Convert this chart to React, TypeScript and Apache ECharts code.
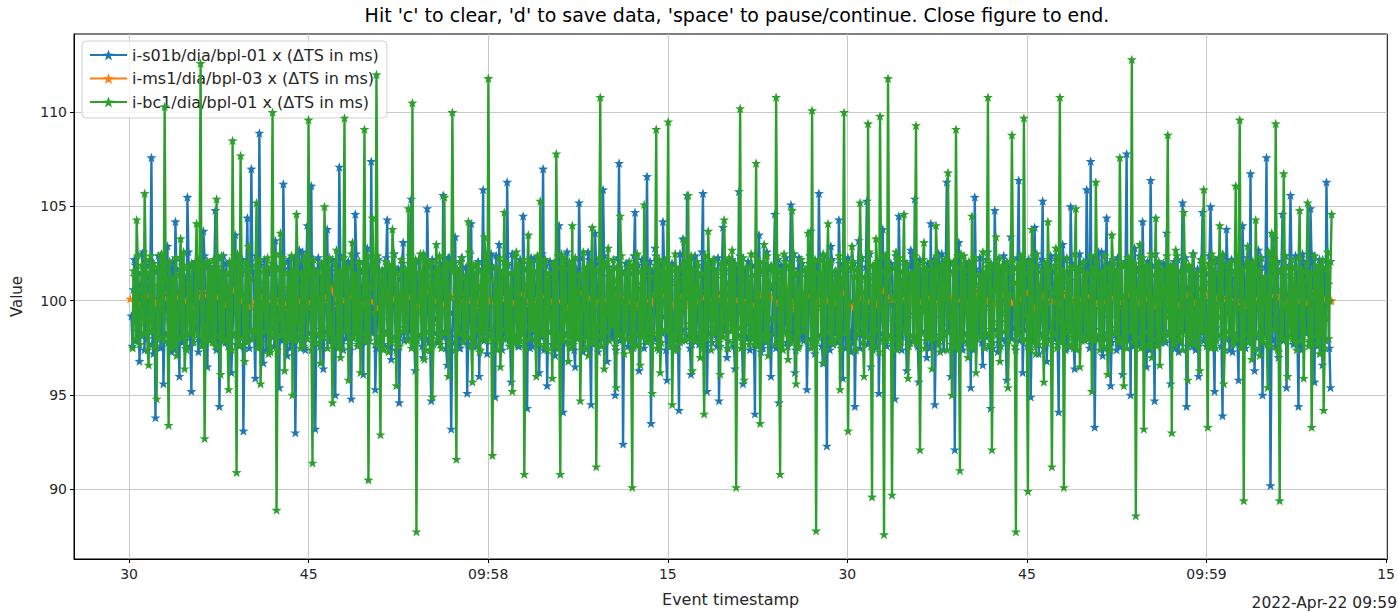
import React, { useEffect, useRef } from "react";
import * as echarts from "echarts";

const TITLE = "Hit 'c' to clear, 'd' to save data, 'space' to pause/continue. Close figure to end.";
const SERIES_NAMES = [
  "i-s01b/dia/bpl-01 x (ΔTS in ms)",
  "i-ms1/dia/bpl-03 x (ΔTS in ms)",
  "i-bc1/dia/bpl-01 x (ΔTS in ms)",
];
const COLORS = ["#1f77b4", "#ff7f0e", "#2ca02c"];
const X_NAME = "Event timestamp";
const Y_NAME = "Value";
const OFFSET_TEXT = "2022-Apr-22 09:59";

// x in seconds after 09:57:00
const X_MIN = 25.4;
const X_MAX = 135.1;
const X_TICKS = [30, 45, 60, 75, 90, 105, 120, 135];
const Y_MIN = 86.3;
const Y_MAX = 114.15;
const Y_TICKS = [90, 95, 100, 105, 110];

// sample timing of each stream (seconds after 09:57:00)
const S01B_START = 30.2;
const S01B_STEP = 0.08346;
const MS1_START = 30.1;
const MS1_STEP = 0.669;
const BC1_START = 30.3;
const BC1_STEP = 0.08346;

const S01B = [
  99.2, 97.6, 100.6, 102.2, 101.9, 97.9, 98.4, 101.5, 96.8, 98.2, 100.9, 102.5, 102.6, 97.4, 99.5, 101.9, 98.0, 98.4, 101.3, 102.1, 107.6, 97.7, 97.2, 101.6, 93.8, 98.0, 100.1, 102.4, 101.4, 97.5, 98.9, 101.7, 95.6, 98.3, 101.7, 102.0, 102.9, 97.8, 99.0, 101.8,
  97.3, 102.1, 100.8, 97.4, 104.2, 101.7, 98.1, 98.3, 96.0, 102.3, 101.4, 97.8, 100.5, 101.3, 97.9, 98.1, 105.5, 102.6, 99.6, 97.6, 95.2, 101.9, 101.9, 98.5, 102.1, 102.0, 98.7, 97.3, 97.9, 101.6, 100.4, 98.0, 103.7, 102.4, 99.2, 97.9, 96.5, 101.8, 102.0, 98.2,
  101.0, 98.0, 98.6, 101.8, 104.8, 97.4, 100.3, 102.3, 94.4, 97.9, 101.1, 101.6, 102.4, 98.5, 97.8, 102.0, 98.3, 97.6, 100.7, 101.5, 96.2, 98.2, 99.4, 102.4, 103.5, 97.7, 98.2, 101.9, 97.6, 98.3, 101.5, 102.2, 93.1, 97.5, 99.8, 101.7, 104.4, 98.0, 97.5, 102.1,
  107.0, 101.6, 101.2, 98.0, 95.9, 102.4, 99.1, 97.7, 108.9, 101.9, 98.4, 98.3, 96.7, 102.2, 100.9, 97.4, 101.7, 101.5, 97.6, 98.4, 98.6, 102.0, 101.8, 97.6, 103.2, 101.8, 99.3, 98.1, 95.4, 102.5, 100.5, 97.9, 106.2, 101.7, 98.0, 98.2, 97.1, 102.1, 102.2, 97.5,
  100.8, 97.7, 99.7, 102.3, 93.0, 98.0, 98.8, 101.4, 102.7, 98.1, 101.0, 102.6, 97.8, 97.5, 97.4, 101.8, 104.0, 98.3, 100.2, 102.0, 106.1, 97.8, 99.0, 101.7, 93.2, 98.2, 101.6, 102.3, 101.3, 97.6, 98.5, 101.9, 96.4, 98.4, 100.8, 102.1, 103.8, 97.9, 99.9, 101.6,
  98.1, 102.2, 97.7, 97.6, 95.0, 101.8, 101.3, 98.2, 107.1, 102.4, 98.9, 97.9, 97.4, 101.5, 100.6, 98.0, 102.0, 102.1, 99.2, 97.4, 94.8, 101.9, 102.1, 98.3, 104.6, 102.5, 98.3, 97.7, 99.0, 101.6, 100.0, 98.1, 96.1, 102.0, 101.4, 97.8, 102.8, 101.7, 97.9, 98.4,
  107.4, 98.3, 100.4, 101.9, 95.3, 97.5, 99.6, 102.2, 101.6, 97.8, 98.1, 101.6, 97.7, 98.4, 101.7, 102.3, 104.3, 97.6, 99.0, 101.8, 96.9, 98.1, 100.9, 102.5, 100.3, 97.4, 97.3, 101.7, 94.6, 98.2, 101.2, 102.0, 103.1, 97.9, 99.5, 101.5, 98.5, 98.0, 98.6, 102.4,
  105.4, 101.7, 101.0, 97.9, 96.3, 102.1, 98.2, 98.2, 102.2, 101.5, 100.7, 97.6, 97.0, 102.4, 99.8, 98.0, 104.9, 101.8, 97.8, 97.4, 94.7, 102.2, 101.5, 98.3, 101.8, 101.6, 99.1, 97.8, 98.2, 102.0, 100.3, 98.1, 105.6, 101.9, 98.4, 97.5, 96.6, 102.3, 102.3, 98.4,
  93.2, 97.8, 99.4, 102.0, 103.4, 98.1, 100.6, 101.6, 97.5, 97.5, 98.0, 102.3, 101.1, 98.4, 101.1, 101.8, 95.1, 97.7, 99.7, 102.5, 104.1, 98.0, 97.6, 101.4, 98.8, 97.6, 100.8, 102.1, 96.0, 98.3, 99.2, 101.7, 105.9, 97.9, 101.9, 102.4, 97.2, 98.2, 98.5, 101.9,
  102.5, 101.8, 100.1, 97.7, 94.9, 102.4, 98.7, 98.0, 103.0, 101.6, 101.3, 97.4, 98.0, 102.1, 99.6, 98.3, 106.3, 101.9, 97.9, 97.8, 95.7, 102.5, 100.5, 98.1, 101.5, 101.5, 99.0, 97.6, 97.6, 102.2, 102.0, 98.4, 104.5, 101.7, 98.3, 97.9, 94.3, 102.0, 100.9, 97.5,
  102.3, 97.6, 99.5, 102.2, 98.4, 97.9, 101.6, 101.5, 96.2, 98.2, 98.1, 102.5, 107.0, 97.4, 100.2, 101.9, 95.5, 98.4, 99.8, 102.1, 101.9, 97.7, 97.4, 101.6, 97.1, 98.0, 101.0, 102.4, 104.0, 97.5, 98.9, 101.7, 94.1, 98.3, 100.6, 102.0, 102.6, 97.8, 99.3, 101.8,
  98.9, 102.1, 101.8, 97.4, 96.5, 101.7, 98.6, 98.3, 105.2, 102.3, 100.0, 97.8, 97.3, 101.3, 99.1, 98.1, 100.7, 102.6, 102.2, 97.6, 94.5, 101.9, 97.7, 98.5, 103.6, 102.0, 100.4, 97.3, 98.1, 101.6, 99.9, 98.0, 105.9, 102.4, 98.2, 97.9, 96.8, 101.8, 101.3, 98.2,
  101.2, 98.0, 99.0, 101.8, 95.0, 97.4, 100.7, 102.3, 107.3, 97.9, 98.4, 101.6, 92.4, 98.5, 101.5, 102.0, 102.0, 97.6, 99.6, 101.5, 97.9, 98.2, 97.5, 102.4, 104.7, 97.7, 100.9, 101.9, 96.3, 98.3, 98.8, 102.2, 101.4, 97.5, 101.2, 101.7, 106.6, 98.0, 99.4, 102.1,
  93.5, 101.6, 100.3, 98.0, 102.8, 102.4, 98.0, 97.7, 97.4, 101.9, 101.7, 98.3, 104.2, 102.2, 99.2, 97.4, 95.8, 101.5, 100.8, 98.4, 101.0, 102.0, 97.8, 97.6, 98.6, 101.8, 101.1, 98.1, 94.2, 102.5, 99.7, 97.9, 103.3, 101.7, 98.5, 98.2, 105.6, 102.1, 100.6, 97.5,
  96.1, 97.7, 99.9, 102.3, 102.4, 98.0, 101.4, 101.4, 97.7, 98.1, 98.3, 102.6, 105.7, 97.5, 100.1, 101.8, 95.2, 98.3, 99.5, 102.0, 101.6, 97.8, 102.1, 101.7, 98.3, 98.2, 97.6, 102.3, 94.7, 97.6, 100.5, 101.9, 103.9, 98.4, 99.0, 102.1, 97.0, 97.9, 101.0, 101.6,
  102.1, 102.2, 98.7, 97.6, 96.4, 101.8, 100.9, 98.2, 105.8, 102.4, 99.4, 97.9, 95.6, 101.5, 101.6, 98.0, 101.3, 102.1, 98.1, 97.4, 98.7, 101.9, 100.2, 98.3, 94.0, 102.5, 99.8, 97.7, 103.5, 101.6, 97.3, 98.1, 97.5, 102.0, 101.3, 97.8, 102.6, 101.7, 99.1, 98.4,
  96.0, 98.3, 100.7, 101.9, 104.6, 97.5, 98.5, 102.2, 94.6, 97.8, 101.9, 101.6, 101.8, 98.4, 99.3, 102.3, 97.8, 97.6, 100.0, 101.8, 105.1, 98.1, 97.9, 102.5, 96.2, 97.4, 101.4, 101.7, 102.3, 98.2, 98.8, 102.0, 98.0, 97.9, 100.4, 101.5, 95.3, 98.0, 99.6, 102.4,
  103.7, 101.7, 101.1, 97.9, 97.2, 102.1, 98.2, 98.2, 105.7, 101.5, 100.6, 97.6, 96.7, 102.4, 99.7, 98.0, 92.3, 101.8, 102.0, 97.4, 102.9, 102.2, 97.7, 98.3, 98.5, 101.6, 100.3, 97.8, 104.3, 102.0, 99.0, 98.1, 95.9, 101.9, 101.5, 97.5, 101.5, 102.3, 98.4, 98.4,
  97.3, 97.8, 100.0, 102.0, 94.4, 98.1, 99.5, 101.6, 103.2, 97.5, 101.2, 102.3, 98.2, 98.4, 98.6, 101.8, 105.3, 97.7, 100.8, 102.5, 96.5, 98.0, 97.4, 101.4, 101.1, 97.6, 101.7, 102.1, 95.1, 98.3, 99.2, 101.7, 103.8, 97.9, 98.9, 102.4, 97.6, 98.2, 100.5, 101.9,
  102.0, 101.8, 99.8, 97.7, 94.8, 102.4, 101.0, 98.0, 104.5, 101.6, 98.0, 97.4, 98.8, 102.1, 100.9, 98.3, 96.3, 101.9, 99.3, 97.8, 102.7, 102.5, 102.1, 98.1, 105.4, 101.5, 97.8, 97.6, 95.7, 102.2, 100.2, 98.4, 101.4, 101.7, 99.6, 97.9, 97.0, 102.0, 101.3, 97.5,
  104.1, 97.6, 98.3, 102.2, 94.5, 97.9, 100.6, 101.5, 102.5, 98.2, 99.1, 102.5, 98.1, 97.4, 101.8, 101.9, 106.3, 98.4, 98.7, 102.1, 96.0, 97.7, 100.1, 101.6, 92.1, 98.0, 99.9, 102.4, 103.1, 97.5, 97.6, 101.7, 97.4, 98.3, 101.1, 102.0, 101.9, 97.8, 99.4, 101.8,
  95.4, 102.1, 100.8, 97.4, 105.5, 101.7, 98.1, 98.3, 98.4, 102.3, 101.5, 97.8, 96.6, 101.3, 99.7, 98.1, 102.2, 102.6, 100.4, 97.6, 94.3, 101.9, 97.5, 98.5, 104.8, 102.0, 101.0, 97.3, 97.8, 101.6, 98.9, 98.0, 101.6, 102.4, 100.3, 97.9, 95.8, 101.8, 99.2, 98.2,
  103.4, 98.0, 101.6, 101.8, 98.6, 97.4, 98.4, 102.3, 106.4, 97.9, 100.0, 101.6, 96.2, 98.5, 99.5, 102.0, 101.0, 97.6, 102.2, 101.5, 94.9, 98.2, 97.9, 102.4, 103.9, 97.7, 100.7, 101.9, 97.2, 98.3, 99.0, 102.2, 105.3, 97.5, 101.2, 101.7, 96.8, 98.0, 98.6, 102.1,
  102.4, 101.6, 100.2, 98.0, 98.0, 102.4, 99.8, 97.7, 94.1, 101.9, 101.4, 98.3, 103.0, 102.2, 98.2, 97.4, 97.5, 101.5, 100.9, 98.4, 105.0, 102.0, 97.7, 97.6, 96.4, 101.8, 101.1, 98.1, 101.7, 102.5, 99.3, 97.9, 98.3, 101.7, 98.8, 98.2, 105.9, 102.1, 100.5, 97.5,
  107.4, 97.7, 99.6, 102.3, 93.3, 98.0, 101.3, 101.4, 102.6, 98.1, 98.5, 102.6, 97.1, 97.5, 100.6, 101.8, 104.4, 98.3, 99.1, 102.0, 95.5, 97.8, 101.9, 101.7, 101.3, 98.2, 97.4, 102.3, 98.7, 97.6, 100.1, 101.9, 96.1, 98.4, 99.7, 102.1, 107.8, 97.9, 101.0, 101.6,
  95.0, 102.2, 98.9, 97.6, 102.8, 101.8, 100.8, 98.2, 97.7, 102.4, 99.4, 97.9, 104.2, 101.5, 101.7, 98.0, 96.5, 102.1, 98.0, 97.4, 106.4, 101.9, 100.3, 98.3, 94.7, 102.5, 99.9, 97.7, 101.9, 101.6, 97.8, 98.1, 98.2, 102.0, 101.2, 97.8, 103.6, 101.7, 99.5, 98.4,
  95.6, 98.3, 100.4, 101.9, 102.1, 97.5, 98.3, 102.2, 97.3, 97.8, 101.6, 101.6, 105.2, 98.4, 99.0, 102.3, 94.4, 97.6, 100.7, 101.8, 101.5, 98.1, 97.6, 102.5, 98.9, 97.4, 101.3, 101.7, 96.0, 98.2, 98.7, 102.0, 104.7, 97.9, 100.0, 101.5, 97.6, 98.0, 99.2, 102.4,
  105.0, 101.7, 101.5, 97.9, 95.2, 102.1, 98.6, 98.2, 102.3, 101.5, 100.9, 97.6, 93.9, 102.4, 99.8, 98.0, 103.8, 101.8, 102.0, 97.4, 97.9, 102.2, 97.3, 98.3, 101.2, 101.6, 100.5, 97.8, 95.8, 102.0, 99.1, 98.1, 104.0, 101.9, 101.1, 97.5, 98.1, 102.3, 98.4, 98.4,
  106.75, 97.8, 100.1, 102.0, 96.3, 98.1, 99.6, 101.6, 102.7, 97.5, 101.8, 102.3, 95.0, 98.4, 98.2, 101.8, 107.6, 97.7, 100.6, 102.5, 90.2, 98.0, 97.9, 101.4, 103.3, 97.6, 101.4, 102.1, 97.0, 98.3, 99.4, 101.7, 104.6, 97.9, 98.8, 102.4, 95.4, 98.2, 100.3, 101.9,
  105.6, 101.8, 99.7, 97.7, 97.8, 102.4, 101.2, 98.0, 94.4, 101.6, 98.1, 97.4, 102.5, 102.1, 100.8, 98.3, 98.4, 101.9, 99.0, 97.8, 104.9, 102.5, 102.1, 98.1, 95.7, 101.5, 97.7, 97.6, 101.8, 102.2, 100.4, 98.4, 96.6, 101.7, 99.5, 97.9, 106.3, 102.0, 100.9, 97.5,
  95.4,
];

const MS1 = [
  100.1, 99.8, 100.3, 99.9, 100.4, 99.7, 100.2, 100.0, 99.6, 100.5,
  99.9, 100.2, 99.8, 100.6, 100.0, 99.7, 100.3, 99.9, 100.1, 99.5,
  100.4, 100.0, 99.8, 100.2, 99.9, 100.7, 99.7, 100.1, 100.3, 99.8,
  100.0, 99.6, 100.4, 100.1, 99.9, 100.2, 99.7, 100.5, 100.0, 99.8,
  100.3, 99.9, 100.1, 99.6, 100.6, 100.0, 99.8, 100.2, 99.9, 100.4,
  99.7, 100.1, 100.3, 99.8, 100.0, 99.5, 100.5, 100.2, 99.9, 100.1,
  99.8, 100.4, 100.0, 99.7, 100.2, 99.9, 100.6, 100.1, 99.8, 100.3,
  99.6, 100.0, 100.2, 99.9, 100.5, 99.7, 100.1, 100.0, 99.8, 100.4,
  100.2, 99.9, 100.7, 99.6, 100.1, 100.3, 99.8, 100.0, 99.9, 100.4,
  99.7, 100.2, 100.0, 99.8, 100.5, 100.1, 99.9, 100.3, 99.6, 100.0,
  100.2, 99.8, 100.4, 99.9, 100.1, 99.7, 100.6, 100.0, 99.8, 100.3,
  99.9, 100.1, 100.4, 99.6, 100.2, 100.0, 99.8, 100.5, 99.9, 100.1,
  100.3, 99.7, 100.0, 100.2, 99.8, 100.6, 99.9, 100.1, 99.7, 100.4,
  100.0, 99.8, 100.3, 99.9, 100.1, 100.8, 99.7, 100.2, 100.0, 99.6,
  100.4, 99.9, 100.1, 100.3, 99.8, 100.2, 100.0, 99.9, 100.5, 100.1,
  100.0,
];

const BC1 = [
  97.5, 101.6, 101.3, 98.0, 104.3, 102.4, 98.7, 97.7, 98.2, 101.9, 100.2, 98.3, 105.7, 102.2, 99.1, 97.4, 96.6, 101.5, 102.4, 98.4, 101.8, 102.0, 97.6, 97.6, 94.8, 101.8, 100.8, 98.1, 102.4, 102.5, 99.4, 97.9, 110.3, 101.7, 101.1, 98.2, 93.4, 102.1, 98.0, 97.5,
  101.2, 97.7, 100.5, 102.3, 97.1, 98.0, 99.3, 101.4, 103.3, 98.1, 101.9, 102.6, 96.4, 97.5, 97.4, 101.8, 100.9, 98.3, 100.1, 102.0, 98.3, 97.8, 98.8, 101.7, 104.1, 98.2, 101.6, 102.3, 112.6, 97.6, 99.7, 101.9, 92.7, 98.4, 97.9, 102.1, 102.0, 97.9, 100.9, 101.6,
  97.8, 102.2, 99.2, 97.6, 105.4, 101.8, 101.4, 98.2, 96.1, 102.4, 98.3, 97.9, 101.5, 101.5, 100.7, 98.0, 95.3, 102.1, 99.8, 97.4, 108.5, 101.9, 102.1, 98.3, 90.9, 102.5, 97.7, 97.7, 107.7, 101.6, 100.3, 98.1, 96.8, 102.0, 99.0, 97.8, 102.9, 101.7, 101.2, 98.4,
  98.0, 98.3, 98.5, 101.9, 105.2, 97.5, 100.6, 102.2, 95.6, 97.8, 99.6, 101.6, 101.0, 98.4, 101.8, 102.3, 97.2, 97.6, 97.3, 101.8, 110.0, 98.1, 100.0, 102.5, 88.9, 97.4, 99.1, 101.7, 103.6, 98.2, 102.3, 102.0, 96.3, 97.9, 98.2, 101.5, 100.7, 98.0, 100.4, 102.4,
  95.0, 101.7, 101.0, 97.9, 104.6, 102.1, 98.9, 98.2, 97.5, 101.5, 100.7, 97.6, 102.2, 102.4, 99.5, 98.0, 109.6, 101.8, 101.5, 97.4, 91.4, 102.2, 97.8, 98.3, 101.3, 101.6, 100.2, 97.8, 96.7, 102.0, 98.6, 98.1, 105.0, 101.9, 101.7, 97.5, 98.4, 102.3, 99.3, 98.4,
  94.6, 97.8, 100.9, 102.0, 102.7, 98.1, 97.5, 101.6, 97.0, 97.5, 101.3, 102.3, 109.7, 98.4, 99.0, 101.8, 95.8, 97.7, 100.5, 102.5, 103.1, 98.0, 98.4, 101.4, 98.8, 97.6, 102.0, 102.1, 96.2, 98.3, 99.7, 101.7, 109.1, 97.9, 97.9, 102.4, 90.5, 98.2, 100.8, 101.9,
  104.4, 101.8, 99.4, 97.7, 112.0, 102.4, 101.1, 98.0, 92.9, 101.6, 98.1, 97.4, 101.6, 102.1, 100.6, 98.3, 97.3, 101.9, 99.9, 97.8, 103.8, 102.5, 101.8, 98.1, 95.5, 101.5, 97.6, 97.6, 100.2, 102.2, 100.3, 98.4, 98.6, 101.7, 99.2, 97.9, 104.9, 102.0, 101.4, 97.5,
  110.5, 97.6, 98.8, 102.2, 87.75, 97.9, 100.0, 101.5, 102.5, 98.2, 99.5, 102.5, 96.9, 97.4, 102.2, 101.9, 101.4, 98.4, 97.4, 102.1, 94.9, 97.7, 100.9, 101.6, 103.0, 98.0, 98.7, 102.4, 97.7, 97.5, 101.0, 101.7, 105.5, 98.3, 99.6, 102.0, 96.0, 97.8, 100.2, 101.8,
  110.0, 102.1, 101.6, 97.4, 91.6, 101.7, 98.3, 98.3, 102.1, 102.3, 100.4, 97.8, 98.1, 101.3, 99.1, 98.1, 104.2, 102.6, 101.9, 97.6, 95.7, 101.9, 97.7, 98.5, 101.9, 102.0, 100.7, 97.3, 97.4, 101.6, 99.3, 98.0, 103.4, 102.4, 98.5, 97.9, 111.8, 101.8, 101.2, 98.2,
  91.8, 98.0, 100.1, 101.8, 100.6, 97.4, 99.8, 102.3, 96.5, 97.9, 101.5, 101.6, 104.7, 98.5, 98.0, 102.0, 98.9, 97.6, 100.6, 101.5, 95.2, 98.2, 97.9, 102.4, 102.6, 97.7, 101.3, 101.9, 97.9, 98.3, 99.4, 102.2, 90.8, 97.5, 100.8, 101.7, 103.5, 98.0, 98.6, 102.1,
  98.5, 101.6, 99.7, 98.0, 96.0, 102.4, 101.0, 97.7, 105.3, 101.9, 98.4, 98.3, 97.6, 102.2, 100.3, 97.4, 101.1, 101.5, 99.2, 98.4, 95.9, 102.0, 102.0, 97.6, 107.8, 101.8, 97.5, 98.1, 90.8, 102.5, 100.9, 97.9, 102.3, 101.7, 99.0, 98.2, 96.8, 102.1, 101.7, 97.5,
  104.0, 97.7, 98.9, 102.3, 98.2, 98.0, 100.5, 101.4, 94.7, 98.1, 99.6, 102.6, 101.7, 97.5, 101.4, 101.8, 97.1, 98.3, 97.8, 102.0, 103.9, 97.8, 100.1, 101.7, 91.2, 98.2, 98.7, 102.3, 110.8, 97.6, 102.1, 101.9, 96.4, 98.4, 99.3, 102.1, 102.8, 97.9, 100.7, 101.6,
  98.7, 102.2, 101.1, 97.6, 95.4, 101.8, 98.2, 98.2, 104.5, 102.4, 100.0, 97.9, 97.2, 101.5, 99.5, 98.0, 101.8, 102.1, 101.8, 97.4, 90.1, 101.9, 97.6, 98.3, 102.4, 102.5, 100.6, 97.7, 96.6, 101.6, 99.9, 98.1, 105.1, 102.0, 98.3, 97.8, 98.0, 101.7, 101.3, 98.4,
  95.1, 98.3, 100.4, 101.9, 109.1, 97.5, 99.0, 102.2, 96.2, 97.8, 101.6, 101.6, 102.0, 98.4, 98.5, 102.3, 109.5, 97.6, 100.8, 101.8, 94.5, 98.1, 97.4, 102.5, 101.5, 97.4, 101.2, 101.7, 97.8, 98.2, 99.7, 102.0, 103.2, 97.9, 100.2, 101.5, 105.6, 98.0, 98.8, 102.4,
  96.3, 101.7, 99.6, 97.9, 100.8, 102.1, 101.9, 98.2, 97.0, 101.5, 98.1, 97.6, 94.0, 102.4, 100.5, 98.0, 103.7, 101.8, 99.4, 97.4, 98.6, 102.2, 102.2, 98.3, 101.2, 101.6, 97.9, 97.8, 96.1, 102.0, 100.1, 98.1, 104.3, 101.9, 98.9, 97.5, 97.5, 102.3, 101.0, 98.4,
  102.7, 97.8, 100.7, 102.0, 90.1, 98.1, 98.6, 101.6, 110.2, 97.5, 101.4, 102.3, 95.8, 98.4, 99.2, 101.8, 101.0, 97.7, 100.3, 102.5, 98.3, 98.0, 97.7, 101.4, 107.3, 97.6, 101.7, 102.1, 93.5, 98.3, 99.8, 101.7, 103.0, 97.9, 98.0, 102.4, 97.1, 98.2, 100.9, 101.9,
  101.6, 101.8, 99.1, 97.7, 110.8, 102.4, 101.2, 98.0, 90.8, 101.6, 98.4, 97.4, 102.5, 102.1, 100.6, 98.3, 96.9, 101.9, 99.9, 97.8, 104.8, 102.5, 101.5, 98.1, 95.6, 101.5, 97.5, 97.6, 100.4, 102.2, 100.2, 98.4, 98.8, 101.7, 99.3, 97.9, 103.6, 102.0, 101.8, 97.5,
  110.1, 97.6, 98.7, 102.2, 87.8, 97.9, 100.4, 101.5, 102.2, 98.2, 99.7, 102.5, 96.7, 97.4, 102.0, 101.9, 104.1, 98.4, 97.8, 102.1, 97.9, 97.7, 100.8, 101.6, 101.3, 98.0, 98.5, 102.4, 95.3, 97.5, 101.1, 101.7, 110.0, 98.3, 99.0, 102.0, 93.1, 97.8, 100.0, 101.8,
  102.9, 102.1, 101.3, 97.4, 97.4, 101.7, 98.9, 98.3, 105.2, 102.3, 100.5, 97.8, 96.0, 101.3, 99.4, 98.1, 109.4, 102.6, 101.9, 97.6, 89.6, 101.9, 97.6, 98.5, 103.3, 102.0, 100.7, 97.3, 109.8, 101.6, 99.6, 98.0, 87.6, 102.4, 98.2, 97.9, 111.8, 101.8, 101.6, 98.2,
  89.7, 98.0, 100.2, 101.8, 102.6, 97.4, 99.1, 102.3, 97.6, 97.9, 101.0, 101.6, 104.6, 98.5, 98.3, 102.0, 95.9, 97.6, 100.9, 101.5, 101.4, 98.2, 97.9, 102.4, 109.3, 97.7, 101.4, 101.9, 92.1, 98.3, 99.5, 102.2, 103.1, 97.5, 100.6, 101.7, 98.1, 98.0, 98.8, 102.1,
  96.4, 101.6, 99.8, 98.0, 104.0, 102.4, 101.7, 97.7, 97.3, 101.9, 98.0, 98.3, 101.9, 102.2, 100.3, 97.4, 106.8, 101.5, 99.2, 98.4, 95.0, 102.0, 102.1, 97.6, 109.1, 101.8, 97.4, 98.1, 91.0, 102.5, 100.8, 97.9, 102.4, 101.7, 99.7, 98.2, 97.0, 102.1, 101.2, 97.5,
  104.5, 97.7, 98.6, 102.3, 96.2, 98.0, 100.1, 101.4, 100.9, 98.1, 99.9, 102.6, 98.5, 97.5, 101.5, 101.8, 110.8, 98.3, 97.7, 102.0, 92.1, 97.8, 100.6, 101.7, 103.4, 98.2, 98.9, 102.3, 96.8, 97.6, 101.8, 101.9, 101.7, 98.4, 99.4, 102.1, 95.4, 97.9, 100.4, 101.6,
  108.8, 102.2, 101.0, 97.6, 87.75, 101.8, 98.5, 98.2, 102.0, 102.4, 100.9, 97.9, 109.7, 101.5, 99.3, 98.0, 89.9, 102.1, 101.3, 97.4, 103.8, 101.9, 97.8, 98.3, 97.2, 102.5, 100.2, 97.7, 100.5, 101.6, 99.6, 98.1, 95.7, 102.0, 98.1, 97.8, 104.2, 101.7, 101.7, 98.4,
  91.2, 98.3, 100.5, 101.9, 102.8, 97.5, 99.0, 102.2, 110.8, 97.8, 101.1, 101.6, 90.1, 98.4, 98.7, 102.3, 101.2, 97.6, 100.0, 101.8, 97.7, 98.1, 97.5, 102.5, 104.9, 97.4, 101.6, 101.7, 96.5, 98.2, 99.8, 102.0, 102.1, 97.9, 100.7, 101.5, 98.0, 98.0, 98.4, 102.4,
  95.2, 101.7, 99.5, 97.9, 106.3, 102.1, 101.4, 98.2, 97.4, 101.5, 98.2, 97.6, 101.6, 102.4, 100.8, 98.0, 96.1, 101.8, 99.1, 97.4, 103.5, 102.2, 102.0, 98.3, 98.6, 101.6, 97.9, 97.8, 107.6, 102.0, 100.3, 98.1, 95.5, 101.9, 99.6, 97.5, 102.3, 102.3, 101.1, 98.4,
  112.8, 97.8, 98.9, 102.0, 88.6, 98.1, 100.6, 101.6, 103.0, 97.5, 99.7, 102.3, 93.2, 98.4, 101.9, 101.8, 101.8, 97.7, 97.6, 102.5, 97.0, 98.0, 100.1, 101.4, 104.4, 97.6, 98.6, 102.1, 96.6, 98.3, 101.5, 101.7, 100.7, 97.9, 99.2, 102.4, 108.8, 98.2, 100.9, 101.9,
  93.0, 101.8, 101.2, 97.7, 102.7, 102.4, 98.3, 98.0, 97.9, 101.6, 100.4, 97.4, 104.7, 102.1, 99.4, 98.3, 95.8, 101.9, 101.8, 97.8, 101.1, 102.5, 97.7, 98.1, 98.4, 101.5, 100.7, 97.6, 96.3, 102.2, 99.9, 98.4, 105.9, 101.7, 98.5, 97.9, 93.3, 102.0, 101.0, 97.5,
  102.5, 97.6, 100.3, 102.2, 97.5, 97.9, 99.2, 101.5, 104.0, 98.2, 101.7, 102.5, 95.6, 97.4, 98.1, 101.9, 101.4, 98.4, 100.5, 102.1, 98.2, 97.7, 97.8, 101.6, 106.1, 98.0, 101.3, 102.4, 109.6, 97.5, 99.5, 101.7, 89.4, 98.3, 100.0, 102.0, 102.9, 97.8, 98.7, 101.8,
  96.9, 102.1, 99.9, 97.4, 104.3, 101.7, 101.6, 98.3, 97.1, 102.3, 98.4, 97.8, 101.0, 101.3, 100.2, 98.1, 95.4, 102.6, 99.0, 97.6, 103.6, 101.9, 102.2, 98.5, 109.4, 102.0, 97.4, 97.3, 89.4, 101.6, 100.6, 98.0, 106.75, 102.4, 99.7, 97.9, 96.0, 101.8, 101.4, 98.2,
  102.2, 98.0, 98.8, 101.8, 97.8, 97.4, 100.8, 102.3, 104.8, 97.9, 99.3, 101.6, 95.9, 98.5, 101.1, 102.0, 105.2, 97.6, 97.9, 101.5, 93.3, 98.2, 100.4, 102.4, 101.5, 97.7, 98.6, 101.9, 97.2, 98.3, 101.8, 102.2, 94.2, 97.5, 99.1, 101.7, 102.6, 98.0, 100.0, 102.1,
  104.6,
];

const STAR =
  "path://M0,-10L2.35,-3.24L9.51,-3.09L3.8,1.24L5.88,8.09L0,4L-5.88,8.09L-3.8,1.24L-9.51,-3.09L-2.35,-3.24Z";
const FONT = "'DejaVu Sans', 'Liberation Sans', sans-serif";
const TEXT_COLOR = "#262626";

function toPairs(values: number[], start: number, step: number): number[][] {
  return values.map((v, i) => [start + i * step, v]);
}

function fmtX(v: number): string {
  const s = Math.round(v);
  if (s % 60 === 0) return "09:" + String(57 + s / 60);
  return String(s % 60).padStart(2, "0");
}

export default function App() {
  const ref = useRef<HTMLDivElement>(null);
  useEffect(() => {
    if (!ref.current) return;
    const chart = echarts.init(ref.current, null, { renderer: "svg" });
    const mk = (idx: number, data: number[][]) => ({
      name: SERIES_NAMES[idx],
      type: "line",
      data,
      symbol: STAR,
      symbolKeepAspect: true,
      symbolSize: 10,
      showSymbol: true,
      showAllSymbol: true,
      progressive: 0,
      color: COLORS[idx],
      itemStyle: { color: COLORS[idx] },
      lineStyle: { color: COLORS[idx], width: 2.4 },
      emphasis: { disabled: true },
      z: 2 + idx,
    });
    chart.setOption({
      animation: false,
      backgroundColor: "#ffffff",
      textStyle: { fontFamily: FONT },
      grid: {
        left: 74,
        right: 5,
        top: 34,
        bottom: 49,
        show: true,
        borderColor: "#000",
        borderWidth: 1,
        backgroundColor: "transparent",
      },
      legend: {
        orient: "vertical",
        left: 82,
        top: 41,
        padding: [6, 8, 8, 7],
        itemGap: 7.5,
        itemWidth: 37,
        itemHeight: 14,
        backgroundColor: "rgba(255,255,255,0.8)",
        borderColor: "#d0d0d0",
        borderWidth: 1,
        borderRadius: 4,
        textStyle: { fontFamily: FONT, fontSize: 16, lineHeight: 16, color: TEXT_COLOR },
        data: SERIES_NAMES,
      },
      xAxis: {
        type: "value",
        min: X_MIN,
        max: X_MAX,
        name: X_NAME,
        nameLocation: "middle",
        nameGap: 32,
        nameTextStyle: { fontFamily: FONT, fontSize: 16, color: TEXT_COLOR },
        axisLine: { show: true, onZero: false, lineStyle: { color: "#000", width: 1 } },
        axisTick: { show: true, inside: false, length: 4, customValues: X_TICKS, lineStyle: { color: "#000" } },
        axisLabel: {
          customValues: X_TICKS,
          formatter: fmtX,
          fontFamily: FONT,
          fontSize: 14,
          color: TEXT_COLOR,
          margin: 8,
        },
        splitLine: { show: true, lineStyle: { color: "#c8c8c8", width: 1 } },
      },
      yAxis: {
        type: "value",
        min: Y_MIN,
        max: Y_MAX,
        name: Y_NAME,
        nameLocation: "middle",
        nameGap: 50,
        nameRotate: 90,
        nameTextStyle: { fontFamily: FONT, fontSize: 15, color: TEXT_COLOR },
        axisLine: { show: true, lineStyle: { color: "#000", width: 1 } },
        axisTick: { show: true, inside: false, length: 4, customValues: Y_TICKS, lineStyle: { color: "#000" } },
        axisLabel: {
          customValues: Y_TICKS,
          fontFamily: FONT,
          fontSize: 14,
          color: TEXT_COLOR,
          margin: 7,
        },
        splitLine: { show: true, lineStyle: { color: "#c8c8c8", width: 1 } },
      },
      graphic: [
        {
          type: "text",
          x: 737,
          y: 15,
          style: {
            text: TITLE,
            font: "19px " + FONT,
            fill: "#000",
            textAlign: "center",
            textVerticalAlign: "middle",
          },
        },
        {
          type: "text",
          x: 1397,
          y: 603,
          style: {
            text: OFFSET_TEXT,
            font: "15.5px " + FONT,
            fill: TEXT_COLOR,
            textAlign: "right",
            textVerticalAlign: "middle",
          },
        },
      ],
      series: [
        mk(0, toPairs(S01B, S01B_START, S01B_STEP)),
        mk(1, toPairs(MS1, MS1_START, MS1_STEP)),
        mk(2, toPairs(BC1, BC1_START, BC1_STEP)),
      ],
    });
    return () => chart.dispose();
  }, []);
  return (
    <div
      ref={ref}
      style={{ position: "absolute", left: 0, top: 0, width: 1398, height: 612 }}
    />
  );
}
